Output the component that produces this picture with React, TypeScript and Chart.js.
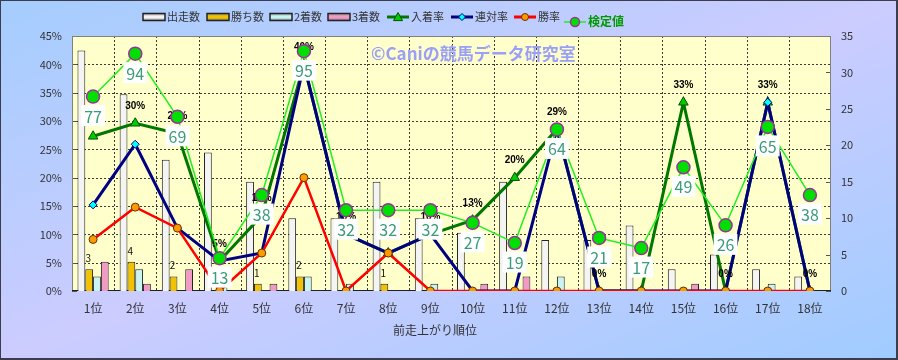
import React, { useEffect, useRef } from 'react';
import { Chart, registerables } from 'chart.js';

Chart.register(...registerables);

const W = 898;
const H = 360;
const FONT = '"Noto Sans CJK JP", "Noto Sans", sans-serif';

// ---- data ----
const categories = ['1位', '2位', '3位', '4位', '5位', '6位', '7位', '8位', '9位', '10位', '11位', '12位', '13位', '14位', '15位', '16位', '17位', '18位'];
const starters = [33, 27, 18, 19, 15, 10, 10, 15, 10, 8, 15, 7, 7, 9, 3, 5, 3, 2];
const wins = [3, 4, 2, 0, 1, 2, 0, 1, 0, 0, 0, 0, 0, 0, 0, 0, 0, 0];
const seconds = [2, 3, 0, 1, 0, 2, 1, 0, 1, 0, 0, 2, 0, 0, 0, 0, 1, 0];
const thirds = [4, 1, 3, 0, 1, 0, 0, 0, 0, 1, 2, 0, 0, 0, 1, 0, 0, 0];
const placeRate = [27.3, 29.6, 27.8, 5.3, 13.3, 40, 10, 6.7, 10, 12.5, 20, 28.6, 0, 0, 33.3, 0, 33.3, 0];
const quinellaRate = [15.2, 25.9, 11.1, 5.3, 6.7, 40, 10, 6.7, 10, 0, 0, 28.6, 0, 0, 0, 0, 33.3, 0];
const winRate = [9.1, 14.8, 11.1, 0, 6.7, 20, 0, 6.7, 0, 0, 0, 0, 0, 0, 0, 0, 0, 0];
const testValues = [77, 94, 69, 13, 38, 95, 32, 32, 32, 27, 19, 64, 21, 17, 49, 26, 65, 38];

const pctMax = 45;
const countMax = 35;
const testMax = 101;
const xTitle = '前走上がり順位';
const watermark = '©Caniの競馬データ研究室';

const C = {
  starters: '#f4f4f4',
  wins: '#f2c200',
  seconds: '#c8f4f4',
  thirds: '#f29ac6',
  place: '#007800',
  placePt: '#00cc00',
  quin: '#000080',
  quinPt: '#00ffff',
  win: '#ff0000',
  winPt: '#ff9900',
  test: '#22ee22',
  testPt: '#00e000',
  testBorder: '#993399',
};

function drawMarker(ctx: CanvasRenderingContext2D, style: string, x: number, y: number, r: number, fill: string, stroke: string, lw: number) {
  ctx.save();
  ctx.beginPath();
  if (style === 'triangle') {
    ctx.moveTo(x, y - r);
    ctx.lineTo(x + r, y + r * 0.8);
    ctx.lineTo(x - r, y + r * 0.8);
    ctx.closePath();
  } else if (style === 'rectRot') {
    ctx.moveTo(x, y - r);
    ctx.lineTo(x + r, y);
    ctx.lineTo(x, y + r);
    ctx.lineTo(x - r, y);
    ctx.closePath();
  } else {
    ctx.arc(x, y, r, 0, Math.PI * 2);
  }
  ctx.fillStyle = fill;
  ctx.fill();
  ctx.lineWidth = lw;
  ctx.strokeStyle = stroke;
  ctx.stroke();
  ctx.restore();
}

const customPlugin = {
  id: 'customDecor',
  beforeDraw(chart: any) {
    const { ctx, chartArea: a } = chart;
    ctx.save();
    const g = ctx.createLinearGradient(324.7, -130, 573.3, 490);
    g.addColorStop(0, '#a4cdfe');
    g.addColorStop(0.5, '#ccccff');
    g.addColorStop(1, '#a0ccff');
    ctx.fillStyle = g;
    ctx.fillRect(0, 0, W, H);
    ctx.fillStyle = '#ffffcc';
    ctx.fillRect(a.left, a.top, a.right - a.left, a.bottom - a.top);

    // grid
    ctx.setLineDash([2, 2]);
    ctx.strokeStyle = '#3a3a3a';
    ctx.lineWidth = 1;
    const ys = chart.scales.y;
    ys.ticks.forEach((t: any) => {
      if (t.value <= 0 || t.value >= pctMax) return;
      const py = Math.round(ys.getPixelForValue(t.value)) + 0.5;
      ctx.beginPath();
      ctx.moveTo(a.left, py);
      ctx.lineTo(a.right, py);
      ctx.stroke();
    });
    const xs = chart.scales.x;
    for (let i = 1; i < categories.length; i++) {
      const px = Math.round((xs.getPixelForValue(i - 1) + xs.getPixelForValue(i)) / 2) + 0.5;
      ctx.beginPath();
      ctx.moveTo(px, a.top);
      ctx.lineTo(px, a.bottom);
      ctx.stroke();
    }
    ctx.setLineDash([]);

    // inner tick marks
    ctx.strokeStyle = '#555';
    ys.ticks.forEach((t: any) => {
      const py = Math.round(ys.getPixelForValue(t.value)) + 0.5;
      ctx.beginPath();
      ctx.moveTo(a.left, py);
      ctx.lineTo(a.left + 5, py);
      ctx.stroke();
    });
    const y2 = chart.scales.y2;
    y2.ticks.forEach((t: any) => {
      const py = Math.round(y2.getPixelForValue(t.value)) + 0.5;
      ctx.beginPath();
      ctx.moveTo(a.right - 5, py);
      ctx.lineTo(a.right, py);
      ctx.stroke();
    });

    // frame
    ctx.strokeStyle = '#808080';
    ctx.lineWidth = 1;
    ctx.strokeRect(a.left + 0.5, a.top + 0.5, a.right - a.left - 1, a.bottom - a.top - 1);
    ctx.strokeStyle = '#202020';
    ctx.beginPath();
    ctx.moveTo(a.left, a.bottom - 0.5);
    ctx.lineTo(a.right, a.bottom - 0.5);
    ctx.stroke();

    // watermark
    ctx.font = `bold 17px ${FONT}`;
    ctx.fillStyle = '#9aa0f6';
    ctx.textAlign = 'left';
    ctx.textBaseline = 'middle';
    ctx.fillText(watermark, 371, 54);

    // x title
    ctx.font = `12px ${FONT}`;
    ctx.fillStyle = '#333';
    ctx.textAlign = 'center';
    ctx.fillText(xTitle, 435, 330);
    ctx.restore();
  },
  beforeDatasetDraw(chart: any, args: any) {
    if (chart.data.datasets[args.index].label !== '検定値') return;
    const { ctx } = chart;
    ctx.save();
    // win count labels
    const winMeta = chart.getDatasetMeta(1);
    ctx.font = `10px ${FONT}`;
    ctx.fillStyle = '#111';
    ctx.textAlign = 'center';
    ctx.textBaseline = 'middle';
    winMeta.data.forEach((el: any, i: number) => {
      if (!wins[i]) return;
      ctx.fillText(String(wins[i]), el.x - 1, el.y - 11);
    });
    // place rate labels
    const pm = chart.getDatasetMeta(4);
    ctx.font = 'bold 10px "Liberation Sans", sans-serif';
    ctx.fillStyle = '#000';
    pm.data.forEach((el: any, i: number) => {
      ctx.fillText(Math.round(placeRate[i]) + '%', el.x, el.y - 17);
    });
    ctx.restore();
  },
  afterDatasetsDraw(chart: any) {
    const { ctx } = chart;
    ctx.save();
    const tm = chart.getDatasetMeta(7);
    ctx.font = `16px ${FONT}`;
    ctx.textAlign = 'center';
    ctx.textBaseline = 'middle';
    tm.data.forEach((el: any, i: number) => {
      const txt = String(testValues[i]);
      const w = ctx.measureText(txt).width + 6;
      const cy = el.y + 19;
      ctx.fillStyle = '#ffffff';
      ctx.fillRect(el.x - w / 2, cy - 10.5, w, 21);
      ctx.fillStyle = '#3a9c78';
      ctx.fillText(txt, el.x, cy + 1);
    });
    ctx.restore();
  },
  afterDraw(chart: any) {
    const { ctx } = chart;
    ctx.save();
    // legend
    const barItems = [
      { x: 143, label: '出走数', color: C.starters },
      { x: 207, label: '勝ち数', color: C.wins },
      { x: 270, label: '2着数', color: C.seconds },
      { x: 328, label: '3着数', color: C.thirds },
    ];
    ctx.textBaseline = 'middle';
    ctx.textAlign = 'left';
    barItems.forEach((it) => {
      const g = ctx.createLinearGradient(0, 13, 0, 21);
      g.addColorStop(0, '#888');
      g.addColorStop(0.4, it.color);
      g.addColorStop(0.6, it.color);
      g.addColorStop(1, '#777');
      ctx.fillStyle = g;
      ctx.fillRect(it.x, 13.5, 22, 7);
      ctx.strokeStyle = '#222';
      ctx.lineWidth = 1.5;
      ctx.strokeRect(it.x, 13.5, 22, 7);
      ctx.font = `11px ${FONT}`;
      ctx.fillStyle = '#333';
      ctx.fillText(it.label, it.x + 24, 17);
    });
    const lineItems = [
      { x: 387, label: '入着率', color: C.place, pt: C.placePt, ptB: '#005000', style: 'triangle', r: 4.5, lw: 3, y: 17 },
      { x: 451, label: '連対率', color: C.quin, pt: C.quinPt, ptB: C.quin, style: 'rectRot', r: 3.5, lw: 3, y: 17 },
      { x: 514, label: '勝率', color: C.win, pt: C.winPt, ptB: '#663300', style: 'circle', r: 3.5, lw: 3, y: 17 },
    ];
    lineItems.forEach((it) => {
      ctx.strokeStyle = it.color;
      ctx.lineWidth = it.lw;
      ctx.beginPath();
      ctx.moveTo(it.x, it.y);
      ctx.lineTo(it.x + 22, it.y);
      ctx.stroke();
      drawMarker(ctx, it.style, it.x + 11, it.y, it.r, it.pt, it.ptB, 1);
      ctx.font = `11px ${FONT}`;
      ctx.fillStyle = '#333';
      ctx.fillText(it.label, it.x + 24, it.y);
    });
    ctx.strokeStyle = C.test;
    ctx.lineWidth = 1.5;
    ctx.beginPath();
    ctx.moveTo(564, 22);
    ctx.lineTo(586, 22);
    ctx.stroke();
    drawMarker(ctx, 'circle', 575, 22, 4.5, C.testPt, C.testBorder, 1.5);
    ctx.font = `bold 12px ${FONT}`;
    ctx.fillStyle = '#009a00';
    ctx.fillText('検定値', 588, 21);

    // outer frame
    ctx.strokeStyle = '#3c3c4c';
    ctx.lineWidth = 1;
    ctx.strokeRect(0.5, 0.5, W - 1, H - 1);
    ctx.beginPath();
    ctx.moveTo(W - 1.5, 0);
    ctx.lineTo(W - 1.5, H);
    ctx.moveTo(0, H - 1.5);
    ctx.lineTo(W, H - 1.5);
    ctx.stroke();
    ctx.restore();
  },
};

export default function App() {
  const ref = useRef<HTMLCanvasElement | null>(null);
  useEffect(() => {
    if (!ref.current) return;
    const barCommon = { type: 'bar' as const, yAxisID: 'y2', borderColor: '#222', borderWidth: 1, order: 10, categoryPercentage: 0.74, barPercentage: 1 };
    const chart = new Chart(ref.current, {
      type: 'bar',
      data: {
        labels: categories,
        datasets: [
          { ...barCommon, label: '出走数', data: starters, backgroundColor: C.starters },
          { ...barCommon, label: '勝ち数', data: wins, backgroundColor: C.wins },
          { ...barCommon, label: '2着数', data: seconds, backgroundColor: C.seconds },
          { ...barCommon, label: '3着数', data: thirds, backgroundColor: C.thirds },
          {
            type: 'line', label: '入着率', data: placeRate, yAxisID: 'y', order: 4,
            borderColor: C.place, borderWidth: 3, tension: 0,
            pointStyle: 'triangle', pointRadius: 5.5, pointBackgroundColor: C.placePt, pointBorderColor: '#005000', pointBorderWidth: 1,
          },
          {
            type: 'line', label: '連対率', data: quinellaRate, yAxisID: 'y', order: 3,
            borderColor: C.quin, borderWidth: 3, tension: 0,
            pointStyle: 'rectRot', pointRadius: 4, pointBackgroundColor: C.quinPt, pointBorderColor: C.quin, pointBorderWidth: 1,
          },
          {
            type: 'line', label: '勝率', data: winRate, yAxisID: 'y', order: 2,
            borderColor: C.win, borderWidth: 2.5, tension: 0,
            pointStyle: 'circle', pointRadius: 4, pointBackgroundColor: C.winPt, pointBorderColor: '#663300', pointBorderWidth: 1,
          },
          {
            type: 'line', label: '検定値', data: testValues, yAxisID: 'y3', order: 1,
            borderColor: C.test, borderWidth: 1.5, tension: 0,
            pointStyle: 'circle', pointRadius: 6.5, pointBackgroundColor: C.testPt, pointBorderColor: C.testBorder, pointBorderWidth: 1.5,
          },
        ] as any,
      },
      options: {
        responsive: false,
        animation: false,
        devicePixelRatio: 1,
        layout: { padding: { top: 36, left: 0, right: 0, bottom: 0 } },
        plugins: { legend: { display: false }, tooltip: { enabled: false } },
        scales: {
          x: {
            grid: { display: false, drawTicks: false },
            border: { display: false },
            ticks: { color: '#333', font: { size: 12, family: FONT }, padding: 10, maxRotation: 0, autoSkip: false },
            afterFit: (s: any) => { s.height = 69; },
          },
          y: {
            position: 'left', min: 0, max: pctMax,
            grid: { display: false, drawTicks: false },
            border: { display: false },
            ticks: { stepSize: 5, color: '#333', font: { size: 11, family: FONT }, padding: 10, callback: (v: any) => v + '%' },
            afterFit: (s: any) => { s.width = 72; },
          },
          y2: {
            position: 'right', min: 0, max: countMax,
            grid: { display: false, drawTicks: false },
            border: { display: false },
            ticks: { stepSize: 5, color: '#333', font: { size: 11, family: FONT }, padding: 10 },
            afterFit: (s: any) => { s.width = 67; },
          },
          y3: { display: false, min: 0, max: testMax },
        },
      } as any,
      plugins: [customPlugin],
    });
    return () => chart.destroy();
  }, []);
  return (
    <div style={{ position: 'fixed', left: 0, top: 0, width: W, height: H }}>
      <canvas ref={ref} width={W} height={H} style={{ width: W, height: H, display: 'block' }} />
    </div>
  );
}
